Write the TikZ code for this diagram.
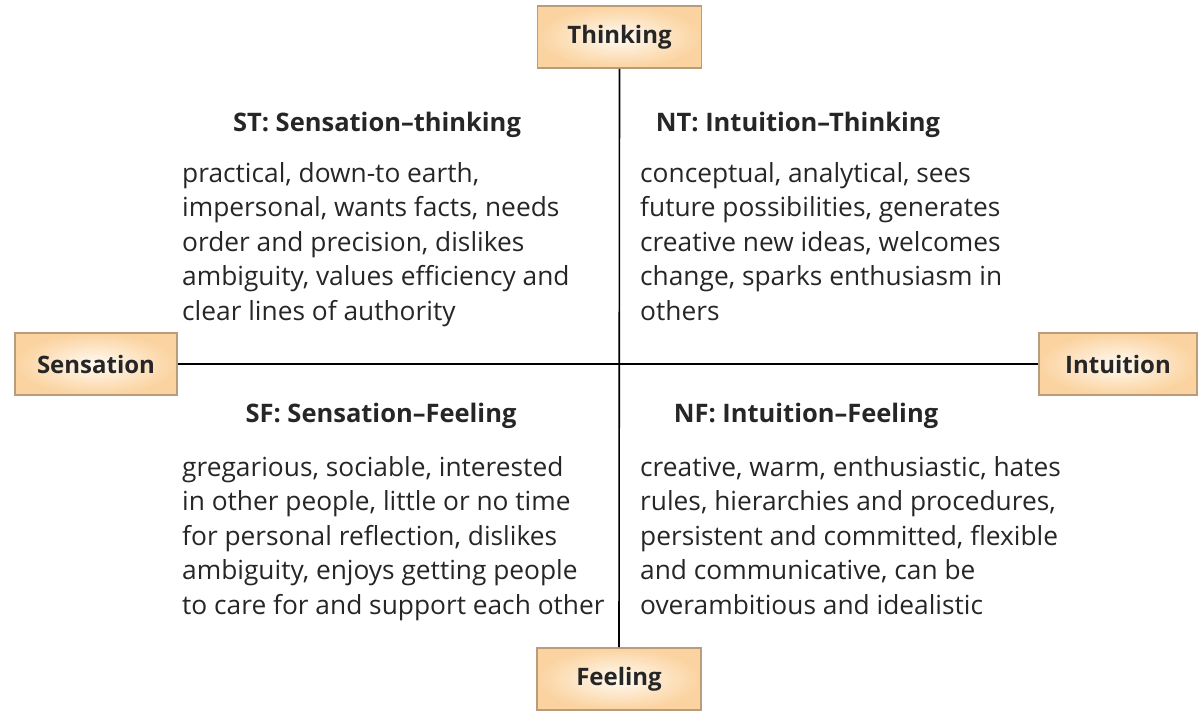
\documentclass[tikz,border=0pt]{standalone}
\usepackage{fontspec}
\setmainfont{Open Sans}
\begin{document}
\begin{tikzpicture}[x=1pt,y=-1pt,
  axisbox/.style={draw=boxborder, line width=1.6pt, inner color=boxinner, outer color=boxouter,
    minimum width=#1, minimum height=62pt, font=\fontsize{24}{28}\selectfont\bfseries, text=black!85},
  head/.style={font=\fontsize{25.5}{30}\selectfont\bfseries, text=black!85, anchor=base, inner sep=0pt},
  body/.style={font=\fontsize{26.3}{34.5}\selectfont, text=black!85, anchor=base west, align=left, inner sep=0pt},
  axis/.style={line width=1.6pt, black}]
\definecolor{boxborder}{HTML}{B89C7C}
\definecolor{boxinner}{HTML}{FFFAF2}
\definecolor{boxouter}{HTML}{FBD3A0}
\useasboundingbox (0,0) rectangle (1198,713);
\node[axisbox=164pt] (think) at (619.5,37) {Thinking};
\node[axisbox=164pt] (feel) at (619,679) {Feeling};
\node[axisbox=162pt] (sens) at (96,364) {Sensation};
\node[axisbox=158pt] (intu) at (1118,364) {Intuition};
\draw[axis] (think.south) -- (feel.north);
\draw[axis] (sens.east) -- (intu.west);
\node[head] (sthead) at (377,131) {ST: Sensation–thinking};
\node[head] (nthead) at (798,131) {NT: Intuition–Thinking};
\node[head] (sfhead) at (381,422) {SF: Sensation–Feeling};
\node[head] (nfhead) at (806,422) {NF: Intuition–Feeling};
\node[body] (stbody) at (182,320) {practical, down-to earth,\\impersonal, wants facts, needs\\order and precision, dislikes\\ambiguity, values efficiency and\\clear lines of authority};
\node[body] (ntbody) at (640,320) {conceptual, analytical, sees\\future possibilities, generates\\creative new ideas, welcomes\\change, sparks enthusiasm in\\others};
\node[body] (sfbody) at (182,614) {gregarious, sociable, interested\\in other people, little or no time\\for personal reflection, dislikes\\ambiguity, enjoys getting people\\to care for and support each other};
\node[body] (nfbody) at (640,614) {creative, warm, enthusiastic, hates\\rules, hierarchies and procedures,\\persistent and committed, flexible\\and communicative, can be\\overambitious and idealistic};
\end{tikzpicture}
\end{document}
